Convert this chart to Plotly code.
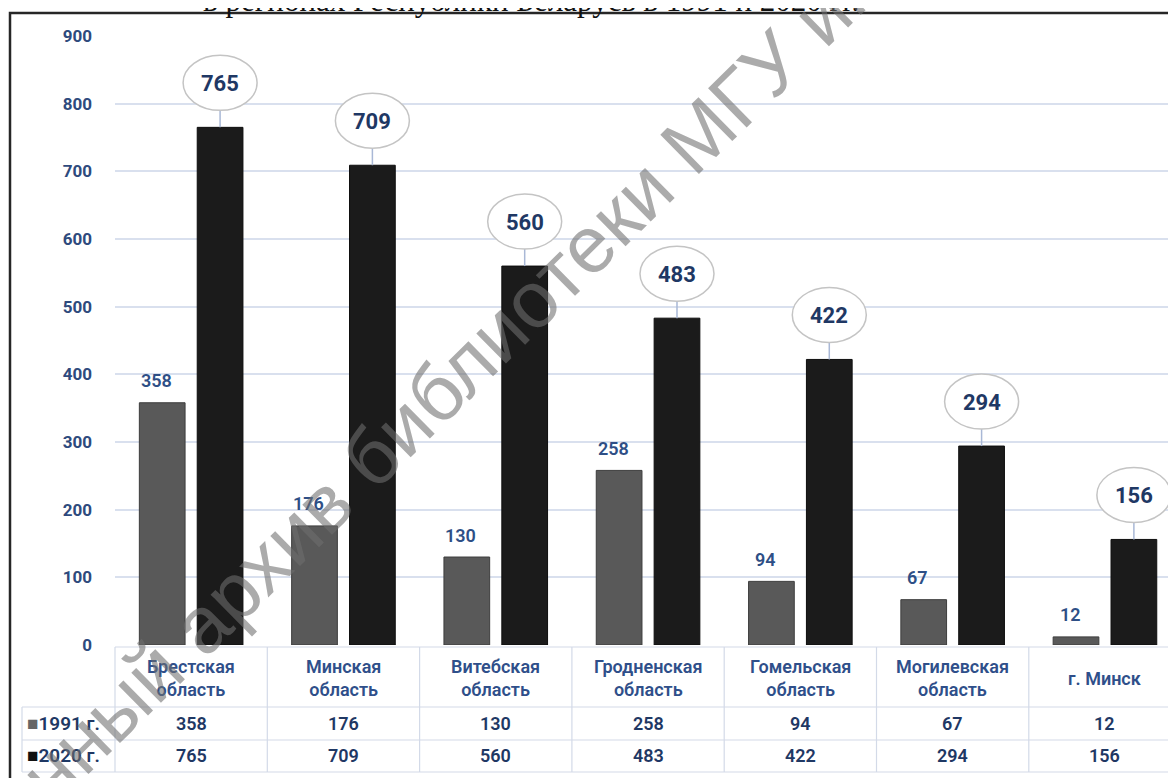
import plotly.graph_objects as go

# ---------------- data ----------------
categories = ["Брестская<br>область", "Минская<br>область", "Витебская<br>область",
              "Гродненская<br>область", "Гомельская<br>область", "Могилевская<br>область",
              "г. Минск"]
values_1991 = [358, 176, 130, 258, 94, 67, 12]
values_2020 = [765, 709, 560, 483, 422, 294, 156]
series_names = ["1991 г.", "2020 г."]
y_ticks = [0, 100, 200, 300, 400, 500, 600, 700, 800, 900]
title_text = "в регионах Республики Беларусь в 1991 и 2020 гг."
watermark_text = "Электронный архив библиотеки МГУ имени А.А. Кулешова"

# ---------------- geometry helpers (reference-image pixel coords) ----------------
OFF_PAGE = 8            # page body margin offset
W, H = 1176 - OFF_PAGE, 778 - OFF_PAGE
R_PL, R_PR, R_PT, R_PB = 115, 1176, 36, 645     # plot area in image coords
PL, PR, PT, PB = R_PL - OFF_PAGE, R_PR - OFF_PAGE, R_PT - OFF_PAGE, R_PB - OFF_PAGE
PW, PH = PR - PL, PB - PT
slot = 152.3
xmin = -0.5
xmax = xmin + PW / slot
OFF = 0.19

def pxx(px):
    return (px - OFF_PAGE - PL) / PW

def pxy(py):
    return (PB - (py - OFF_PAGE)) / PH

def cat_x_paper(v):
    return (v - xmin) / (xmax - xmin)

NAVY = "#1F3864"
TICKBLUE = "#2E4A7D"
LBL1991 = "#2E4F86"
CATBLUE = "#2F4F8A"
GRID = "#D9E0EE"
TABLE = "#D3DAE8"
FONT = "Roboto, 'Noto Sans', sans-serif"

n = len(categories)
xs = list(range(n))

fig = go.Figure()
fig.add_trace(go.Bar(x=xs, y=values_1991, name=series_names[0],
                     marker=dict(color="#595959", line=dict(color="#3d3d3d", width=1)),
                     showlegend=False, hoverinfo="skip"))
fig.add_trace(go.Bar(x=xs, y=values_2020, name=series_names[1],
                     marker=dict(color="#1b1b1b", line=dict(color="#0e0e0e", width=1)),
                     showlegend=False, hoverinfo="skip"))

shapes = []
annotations = []

# frame
shapes.append(dict(type="rect", xref="paper", yref="paper",
                   x0=pxx(10), x1=pxx(1200), y0=pxy(13), y1=pxy(800),
                   line=dict(color="#262626", width=2.5), fillcolor="rgba(0,0,0,0)",
                   layer="below"))

# 1991 labels
for i, v in enumerate(values_1991):
    annotations.append(dict(x=i - OFF, y=v, xref="x", yref="y", text=str(v),
                            showarrow=False, yshift=22, xshift=-6,
                            xanchor="center", yanchor="middle",
                            font=dict(family=FONT, size=18, color=LBL1991, weight=600)))

# 2020 callouts
for i, v in enumerate(values_2020):
    xc = i + OFF
    shapes.append(dict(type="line", xref="x", yref="y", xsizemode="pixel", ysizemode="pixel",
                       xanchor=xc, yanchor=v, x0=0, x1=0, y0=0, y1=18,
                       line=dict(color="#A9B8D6", width=1.5)))
    shapes.append(dict(type="circle", xref="x", yref="y", xsizemode="pixel", ysizemode="pixel",
                       xanchor=xc, yanchor=v, x0=-37, x1=37, y0=17, y1=72,
                       line=dict(color="#C4C4C4", width=1.5), fillcolor="white"))
    annotations.append(dict(x=xc, y=v, xref="x", yref="y", text=str(v), showarrow=False,
                            yshift=44, xanchor="center", yanchor="middle",
                            font=dict(family=FONT, size=22, color=NAVY, weight="bold")))

# ---------------- table under the chart ----------------
for py in [707, 740, 772]:
    shapes.append(dict(type="line", xref="paper", yref="paper",
                       x0=pxx(22), x1=pxx(1200), y0=pxy(py), y1=pxy(py),
                       line=dict(color=TABLE, width=1.2)))
shapes.append(dict(type="line", xref="paper", yref="paper",
                   x0=0, x1=pxx(1200), y0=pxy(647), y1=pxy(647),
                   line=dict(color=TABLE, width=1.2)))
for i in range(n + 1):
    xb = cat_x_paper(i - 0.5)
    if xb > 1.001:
        continue
    shapes.append(dict(type="line", xref="paper", yref="paper",
                       x0=xb, x1=xb, y0=pxy(647), y1=pxy(772),
                       line=dict(color=TABLE, width=1.2)))
shapes.append(dict(type="line", xref="paper", yref="paper",
                   x0=pxx(22), x1=pxx(22), y0=pxy(707), y1=pxy(772),
                   line=dict(color=TABLE, width=1.2)))

for i, c in enumerate(categories):
    annotations.append(dict(x=i, y=pxy(678), xref="x", yref="paper", text=c, showarrow=False,
                            xanchor="center", yanchor="middle", align="center",
                            font=dict(family=FONT, size=18, color=CATBLUE, weight=600)))
    annotations.append(dict(x=i, y=pxy(723), xref="x", yref="paper", text=str(values_1991[i]),
                            showarrow=False, xanchor="center", yanchor="middle",
                            font=dict(family=FONT, size=18, color=NAVY, weight=600)))
    annotations.append(dict(x=i, y=pxy(756), xref="x", yref="paper", text=str(values_2020[i]),
                            showarrow=False, xanchor="center", yanchor="middle",
                            font=dict(family=FONT, size=18, color=NAVY, weight=600)))

key_colors = ["#666666", "#111111"]
for k, (nm, py) in enumerate(zip(series_names, [723, 756])):
    annotations.append(dict(x=pxx(25), y=pxy(py), xref="paper", yref="paper",
                            xanchor="left", yanchor="middle",
                            text=f'<span style="color:{key_colors[k]}">■</span>{nm}',
                            showarrow=False,
                            font=dict(family=FONT, size=19, color=NAVY, weight=600)))

# cut-off title above the frame
annotations.append(dict(x=pxx(531), y=pxy(20), xref="paper", yref="paper",
                        xanchor="center", yanchor="bottom",
                        text=title_text, showarrow=False,
                        font=dict(family="Liberation Serif, serif", size=31, color="#111111")))

# archive watermark
annotations.append(dict(x=pxx(595), y=pxy(237), xref="paper", yref="paper",
                        xanchor="center", yanchor="middle",
                        text=watermark_text, showarrow=False, textangle=-44.5,
                        font=dict(family="Liberation Sans, Arial, sans-serif", size=80,
                                  color="rgba(110,110,110,0.58)")))

fig.update_layout(
    width=W, height=H,
    margin=dict(l=PL, r=W - PR, t=PT, b=H - PB, pad=0),
    paper_bgcolor="white", plot_bgcolor="white",
    barmode="group", bargap=0.24, bargroupgap=0.21,
    shapes=shapes, annotations=annotations,
    xaxis=dict(range=[xmin, xmax], showticklabels=False, showgrid=False, zeroline=False,
               showline=False, fixedrange=True),
    yaxis=dict(range=[0, 900], tickvals=y_ticks, showgrid=True, gridcolor=GRID, gridwidth=1.5,
               zeroline=False, showline=False, ticks="", ticklabelstandoff=22,
               tickfont=dict(family=FONT, size=17, color=TICKBLUE, weight="bold"),
               fixedrange=True),
)

fig.write_html("out.html")
